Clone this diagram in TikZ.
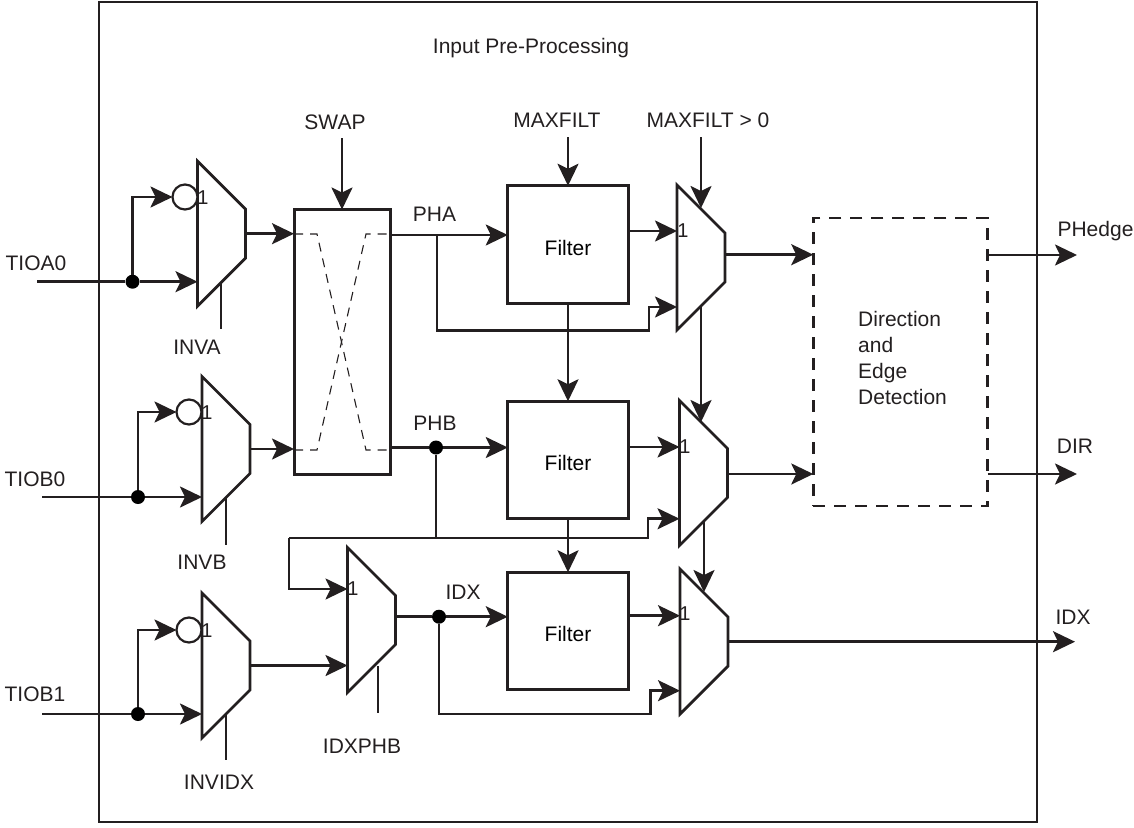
\documentclass[tikz,border=0pt]{standalone}
\usepackage{fontspec}
\setmainfont{Liberation Sans}
\usetikzlibrary{arrows.meta,calc}
\definecolor{linkdark}{RGB}{35,31,32}
\tikzset{
  wire/.style={line width=2.6pt, linkdark},
  arrow/.style={wire, -{Stealth[length=22pt, width=21pt, inset=5pt]}},
  block/.style={draw=linkdark, line width=3pt, rectangle, inner sep=0pt, outer sep=0pt, font=\fontsize{21}{25}\selectfont},
  filter/.style={block, minimum width=120.5pt, minimum height=117.5pt, text height=21pt, text depth=0pt},
  muxline/.style={draw=linkdark, line width=2.8pt, line join=miter},
  mux/.style={rectangle, minimum width=48pt, minimum height=145pt, inner sep=0pt, outer sep=0pt,
    append after command={\pgfextra{\draw[muxline] (\tikzlastnode.north west) -- ([yshift=-48pt]\tikzlastnode.north east)
      -- ([yshift=48pt]\tikzlastnode.south east) -- (\tikzlastnode.south west) -- cycle;}}},
  invert/.style={draw=linkdark, line width=2.2pt, circle, fill=white, minimum size=25pt, inner sep=0pt, outer sep=0pt},
  dot/.style={circle, fill=black, minimum size=14pt, inner sep=0pt},
  lab/.style={font=\fontsize{21}{25}\selectfont, text=linkdark, inner sep=0pt},
  one/.style={font=\fontsize{20}{24}\selectfont, text=linkdark, inner sep=0pt},
  swapline/.style={line width=1.1pt, linkdark, dash pattern=on 9pt off 7pt}
}
\begin{document}
\begin{tikzpicture}[x=1pt, y=-1pt]
    \useasboundingbox (0,0) rectangle (1134,827);
    \node[draw=linkdark, line width=2.6pt, minimum width=938pt, minimum height=820pt, inner sep=0pt] (frame) at (568,412) {};
    \node[lab] (title) at (531,48) {Input Pre-Processing};

    % blocks
    \node[block, minimum width=96pt, minimum height=265pt] (swap) at (342,342) {};
    \node[filter] (filta) at (568,244.5) {Filter};
    \node[filter] (filtb) at (568,460) {Filter};
    \node[filter] (filtc) at (568,631) {Filter};
    \node[block, line width=2.6pt, dash pattern=on 12pt off 9pt, minimum width=174.5pt, minimum height=288pt] (edge) at (900.5,362) {};
    \node[lab, align=left, font=\fontsize{21}{26}\selectfont, anchor=west] (edgetxt) at (858,358) {Direction\\and\\Edge\\Detection};

    % muxes
    \node[mux] (muxa) at (221.5,233.7) {};
    \node[mux] (muxb) at (226,449) {};
    \node[mux] (muxc) at (226,665.5) {};
    \node[mux] (muxi) at (371.5,620) {};
    \node[mux] (mux1) at (701,257.5) {};
    \node[mux] (mux2) at (703.5,473) {};
    \node[mux] (mux3) at (704,641.5) {};
    \node[one] (onea) at (203,198) {1};
    \node[one] (oneb) at (207,413) {1};
    \node[one] (onec) at (207,631) {1};
    \node[one] (onei) at (353,589) {1};
    \node[one] (one1) at (683,231) {1};
    \node[one] (one2) at (685,447) {1};
    \node[one] (one3) at (685,614) {1};
    \node[invert] (inva) at (185,197) {};
    \node[invert] (invb) at (189,412) {};
    \node[invert] (invc) at (189,630) {};

    % junctions
    \node[dot] (dota) at (132.5,281.7) {};
    \node[dot] (dotb) at (138,497) {};
    \node[dot] (dotc) at (138,714) {};
    \node[dot] (dotphb) at (436,447.5) {};
    \node[dot] (dotidx) at (439,616.7) {};
    \coordinate (jpha) at (437,235);
    \coordinate (jpha2) at (649,330.7);
    \coordinate (jphb) at (289,538);
    \coordinate (jphb2) at (648,538);
    \coordinate (jidx) at (650.7,714);

    % labels
    \node[lab] (tioa) at (36,263) {TIOA0};
    \node[lab] (tiob) at (35,479) {TIOB0};
    \node[lab] (tioc) at (35,694) {TIOB1};
    \node[lab] (nva) at (197,347) {INVA};
    \node[lab] (nvb) at (202,562) {INVB};
    \node[lab] (nvc) at (219,782) {INVIDX};
    \node[lab] (idxphb) at (362,746) {IDXPHB};
    \node[lab] (lswap) at (335,122) {SWAP};
    \node[lab] (lmax) at (557,120) {MAXFILT};
    \node[lab] (lmaxz) at (708,120) {MAXFILT > 0};
    \node[lab] (lpha) at (434.5,214) {PHA};
    \node[lab] (lphb) at (435,423) {PHB};
    \node[lab] (lidx) at (463,592) {IDX};
    \node[lab] (phedge) at (1095.5,231) {PHedge};
    \node[lab] (dir) at (1075,446) {DIR};
    \node[lab] (idxout) at (1073,617) {IDX};

    % free ends
    \coordinate (ina) at (37,281.7);
    \coordinate (inb) at (42,497);
    \coordinate (inc) at (42,714);
    \coordinate (swtop) at (342,138);
    \coordinate (maxtop) at (568,137);
    \coordinate (sel1) at (701,137);
    \coordinate (sel1b) at (701,208);
    \coordinate (sel2) at (701,307);
    \coordinate (sel2b) at (701,422);
    \coordinate (sel3) at (704,521);
    \coordinate (sel3b) at (704,592);
    \coordinate (stuba) at (221,281.7);
    \coordinate (stubab) at (221,329);
    \coordinate (stubb) at (226,497);
    \coordinate (stubbb) at (226,545);
    \coordinate (stubc) at (226,714);
    \coordinate (stubcb) at (226,760);
    \coordinate (stubi) at (378,666);
    \coordinate (stubib) at (378,713);
    \coordinate (outa) at (1077,255);
    \coordinate (outb) at (1077,474);
    \coordinate (outc) at (1075,641.7);

    % inputs
    \draw[arrow] (ina) -- (dota) -- (muxa.west |- dota);
    \draw[arrow] (inb) -- (dotb) -- (muxb.west |- dotb);
    \draw[arrow] (inc) -- (dotc) -- (muxc.west |- dotc);
    \draw[arrow] (dota) |- (inva);
    \draw[arrow] (dotb) |- (invb);
    \draw[arrow] (dotc) |- (invc);
    \draw[wire] (stuba) -- (stubab);
    \draw[wire] (stubb) -- (stubbb);
    \draw[wire] (stubc) -- (stubcb);
    \draw[wire] (stubi) -- (stubib);
    \draw[arrow] (muxa.east) -- (swap.west |- muxa.east);
    \draw[arrow] (muxb.east) -- (swap.west |- muxb.east);
    \draw[arrow] (muxc.east) -- (muxi.west |- muxc.east);

    % swap
    \draw[arrow] (swtop) -- (swap.north -| swtop);
    \coordinate (xtl) at (317,234);
    \coordinate (xtr) at (366,234);
    \coordinate (xbl) at (317,450);
    \coordinate (xbr) at (366,450);
    \draw[swapline] (swap.west |- xtl) -- (xtl) -- (xbr) -- (swap.east |- xbr);
    \draw[swapline] (swap.west |- xbl) -- (xbl) -- (xtr) -- (swap.east |- xtr);

    % filter paths
    \draw[arrow] (swap.east |- jpha) -- (filta.west |- jpha);
    \draw[arrow] (swap.east |- dotphb) -- (dotphb) -- (filtb.west |- dotphb);
    \draw[arrow] (muxi.east |- dotidx) -- (dotidx) -- (filtc.west |- dotidx);
    \draw[arrow] (jpha) |- (jpha2) -- (jpha2 |- 0,307) -- (mux1.west |- 0,307);
    \draw[wire] (dotphb) -- (dotphb |- jphb);
    \draw[arrow] (jphb) -- (jphb2) -- (filtb.south -| jphb2) -- (mux2.west |- filtb.south);
    \draw[arrow] (jphb) |- (muxi.west |- 0,589);
    \draw[arrow] (dotidx) |- (jidx) -- (jidx |- 0,690.7) -- (mux3.west |- 0,690.7);
    \draw[arrow] (maxtop) -- (filta.north);
    \draw[arrow] (filta.south) -- (filtb.north);
    \draw[arrow] (filtb.south) -- (filtc.north);
    \draw[arrow] (filta.east |- 0,231) -- (mux1.west |- 0,231);
    \draw[arrow] (filtb.east |- 0,447) -- (mux2.west |- 0,447);
    \draw[arrow] (filtc.east |- 0,615.7) -- (mux3.west |- 0,615.7);

    % select lines
    \draw[arrow] (sel1) -- (sel1b);
    \draw[arrow] (sel2) -- (sel2b);
    \draw[arrow] (sel3) -- (sel3b);

    % outputs
    \draw[arrow] (mux1.east |- 0,254.7) -- (edge.west |- 0,254.7);
    \draw[arrow] (mux2.east |- 0,474) -- (edge.west |- 0,474);
    \draw[arrow] (mux3.east |- outc) -- (outc);
    \draw[arrow] (edge.east |- outa) -- (outa);
    \draw[arrow] (edge.east |- outb) -- (outb);
  \end{tikzpicture}
\end{document}
